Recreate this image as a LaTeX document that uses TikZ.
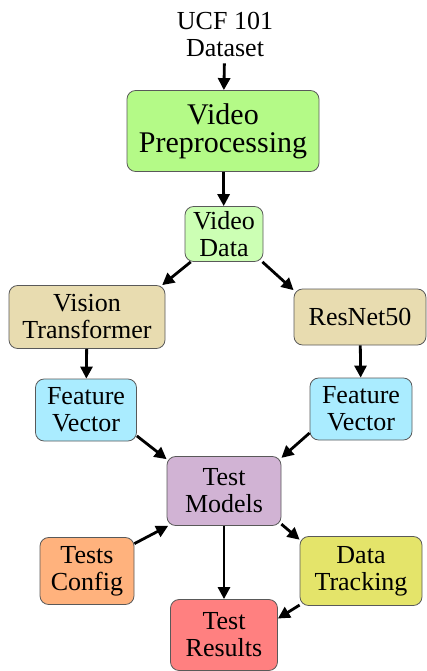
\documentclass[tikz,border=0pt]{standalone}
\usepackage{fontspec}
\setmainfont{Liberation Serif}
\usetikzlibrary{arrows.meta}
\definecolor{prepgreen}{RGB}{180,250,135}
\definecolor{datagreen}{RGB}{204,255,180}
\definecolor{modeltan}{RGB}{232,220,176}
\definecolor{featcyan}{RGB}{170,236,255}
\definecolor{testlilac}{RGB}{209,179,212}
\definecolor{cfgorange}{RGB}{255,178,125}
\definecolor{trackyellow}{RGB}{228,228,106}
\definecolor{resred}{RGB}{255,128,128}

\begin{document}
\begin{tikzpicture}[x=0.75pt, y=-0.75pt,
                   -{Triangle[length=9pt,width=9pt]}, line width=2.1pt,
                   every node/.style={font=\rmfamily\fontsize{19.5}{20.25}\selectfont, align=center, inner sep=0pt},
                   box/.style={rectangle, rounded corners=6.5pt, draw=black!65, line width=0.6pt}]
\useasboundingbox (0,0) rectangle (426,671);
\node (ucf) at (225,34) [minimum height=42pt] {UCF 101\\Dataset};
\node[box, fill=prepgreen, minimum width=144pt, minimum height=60.75pt,
      font=\rmfamily\fontsize{22.5}{21}\selectfont] (vp) at (223,131) {Video\\Preprocessing};
\node[box, fill=datagreen, minimum width=58.5pt, minimum height=41.25pt] (vd) at (224,234) {Video\\Data};
\node[box, fill=modeltan, minimum width=117pt, minimum height=47.25pt] (vt) at (87,317) {Vision\\Transformer};
\node[box, fill=modeltan, minimum width=99pt, minimum height=42pt] (rn) at (360,317) {ResNet50};
\node[box, fill=featcyan, minimum width=75.75pt, minimum height=46.5pt] (fv1) at (86,410) {Feature\\Vector};
\node[box, fill=featcyan, minimum width=76.5pt, minimum height=46.5pt] (fv2) at (361,409) {Feature\\Vector};
\node[box, fill=testlilac, minimum width=85.5pt, minimum height=51.75pt] (tm) at (224,491) {Test\\Models};
\node[box, fill=cfgorange, minimum width=70.5pt, minimum height=50.25pt] (tc) at (87,571) {Tests\\Config};
\node[box, fill=trackyellow, minimum width=91.5pt, minimum height=51.75pt] (dt) at (361,571) {Data\\Tracking};
\node[box, fill=resred, minimum width=80.25pt, minimum height=53.25pt] (tr) at (224,635) {Test\\Results};

\draw (ucf) -- (vp);
\draw (vp) -- (vd);
\draw (vd.220) -- (vt.23);
\draw (vd.-36) -- (rn.158);
\draw (vt) -- (fv1);
\draw (rn) -- (fv2);
\draw (fv1.-27) -- (tm.151);
\draw (fv2.205) -- (tm.30);
\draw (tc.30) -- (tm.212);
\draw (tm) -- (tr);
\draw (tm.-30) -- (dt.153);
\draw (dt.209) -- (tr.17);
\end{tikzpicture}
\end{document}
